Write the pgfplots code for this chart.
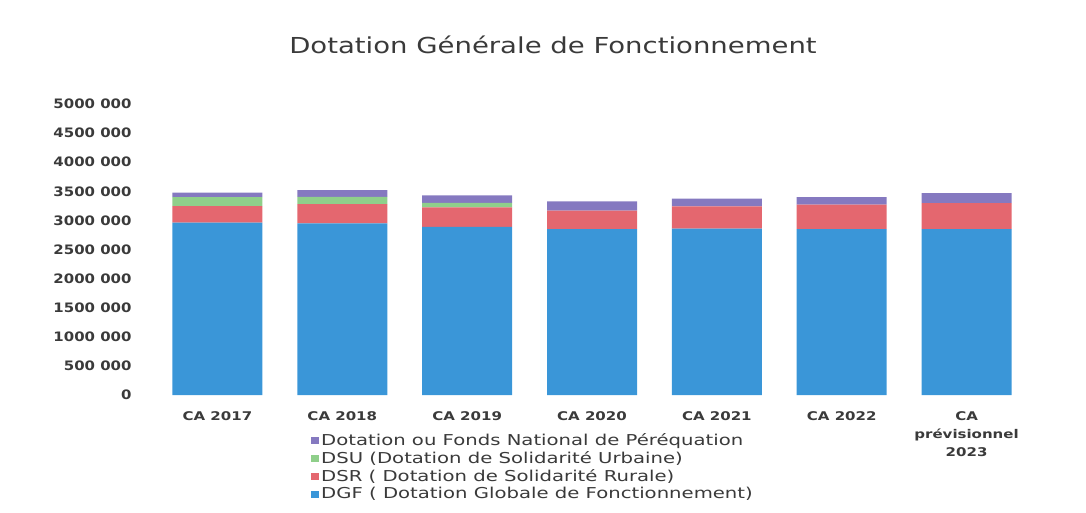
\documentclass[border=0pt]{standalone}
\usepackage{pgfplots}
\pgfplotsset{compat=1.18}
\usepackage{fontspec}
\setmainfont{DejaVu Sans}
\newfontfamily\titlefont[FakeStretch=1.25]{DejaVu Sans}
\newfontfamily\legfont[FakeStretch=1.31]{DejaVu Sans}
\newfontfamily\tickfont[FakeStretch=1.15]{DejaVu Sans Bold}
\newfontfamily\xtickfont[FakeStretch=1.25]{DejaVu Sans Bold}
\definecolor{cDGF}{HTML}{3A96D8}
\definecolor{cDSR}{HTML}{E4676F}
\definecolor{cDSU}{HTML}{8FCF8A}
\definecolor{cDNP}{HTML}{8579C0}
\definecolor{tgray}{HTML}{3A3A3A}
\begin{document}
\begin{tikzpicture}[x=1pt,y=1pt]
\useasboundingbox (0,0) rectangle (1086,512);
\begin{axis}[
  at={(155pt,117pt)}, anchor=south west,
  scale only axis, width=874pt, height=291pt,
  xmin=-0.5, xmax=6.5, ymin=0, ymax=5000000,
  scaled y ticks=false,
  ybar stacked, bar width=90pt,
  axis line style={draw=none},
  xtick={0,...,6},
  xticklabels={CA 2017,CA 2018,CA 2019,CA 2020,CA 2021,CA 2022,{CA\\prévisionnel\\2023}},
  xticklabel style={font=\fontsize{12}{18}\xtickfont, text=tgray, align=center, anchor=north, yshift=-13pt},
  ytick={0,500000,1000000,1500000,2000000,2500000,3000000,3500000,4000000,4500000,5000000},
  yticklabels={0,500 000,1000 000,1500 000,2000 000,2500 000,3000 000,3500 000,4000 000,4500 000,5000 000},
  yticklabel style={font=\fontsize{13}{15}\tickfont, text=tgray, anchor=east, xshift=-20pt},
  major tick length=0pt,
  tick style={draw=none},
  reverse legend,
  legend style={at={(0.1785,-0.125)}, anchor=north west, draw=none, fill=none,
    font=\fontsize{15}{17}\legfont, text=tgray, row sep=0.5pt,
    inner sep=0pt},
  legend cell align=left,
  legend image code/.code={\fill[#1] (0pt,-3.5pt) rectangle (8pt,3pt);},
  every axis plot/.append style={draw=none},
]
\addplot[fill=cDGF] coordinates {(0,2960000) (1,2950000) (2,2890000) (3,2850000) (4,2860000) (5,2850000) (6,2850000)};
\addplot[fill=cDSR] coordinates {(0,287000) (1,330000) (2,333000) (3,320000) (4,383000) (5,420000) (6,447000)};
\addplot[fill=cDSU] coordinates {(0,155000) (1,125000) (2,80000) (3,0) (4,0) (5,0) (6,0)};
\addplot[fill=cDNP] coordinates {(0,74000) (1,115000) (2,127000) (3,155000) (4,130000) (5,130000) (6,170000)};
\legend{DGF ( Dotation Globale de Fonctionnement),DSR ( Dotation de Solidarité Rurale),DSU (Dotation de Solidarité Urbaine),Dotation ou Fonds National de Péréquation}
\end{axis}
\node[font=\fontsize{22}{26}\titlefont, text=tgray] at (553,467) {Dotation Générale de Fonctionnement};
\end{tikzpicture}
\end{document}
